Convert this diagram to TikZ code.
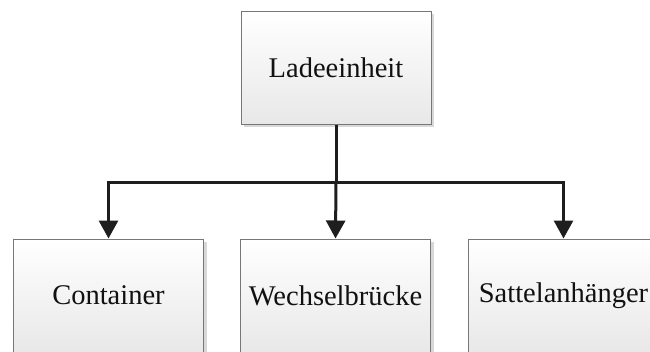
\documentclass[tikz,border=0pt]{standalone}
\usepackage{fontspec}
\setmainfont{Liberation Serif}
\usetikzlibrary{arrows.meta,shadows}
\definecolor{boxline}{HTML}{777777}
\definecolor{boxbottom}{HTML}{E8E8E8}
\definecolor{ink}{HTML}{111111}
\definecolor{wire}{HTML}{1E1E1E}
\tikzset{
  unit/.style={draw=boxline, line width=1pt,
    top color=white, bottom color=boxbottom,
    minimum width=190pt, minimum height=113pt,
    inner sep=0pt, text=ink,
    font=\fontsize{28.5}{34}\selectfont,
    drop shadow={shadow xshift=3pt, shadow yshift=-3pt, fill=black!30, opacity=0.5}},
  wirestyle/.style={draw=wire, line width=3pt, line join=miter},
  tipped/.style={wirestyle, -{Triangle[length=18pt, width=19pt]}}
}
\begin{document}
\begin{tikzpicture}[x=1pt, y=-1pt]
  \useasboundingbox (0,0) rectangle (650,351);
  \fill[white] (0,0) rectangle (650,351);
  \node[unit] (root) at (336,67.5) {Ladeeinheit};
  \node[unit] (cont) at (108.5,295.5) {Container};
  \node[unit] (wech) at (335.5,295.5) {Wechselbrücke};
  \node[unit] (satt) at (563.5,295.5) {Sattelanhänger};
  \coordinate (hub) at (336,182);
  \draw[wirestyle] (root.south) -- (hub);
  \draw[tipped] (hub) -| (cont.north);
  \draw[tipped] (hub) -- (wech.north);
  \draw[tipped] (hub) -| (satt.north);
\end{tikzpicture}
\end{document}
